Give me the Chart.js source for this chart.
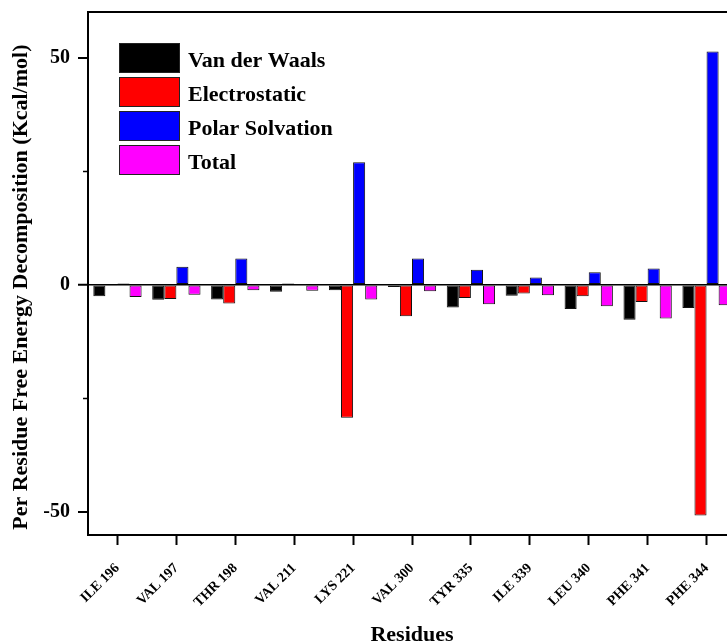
<!DOCTYPE html>
<html>
<head>
<meta charset="utf-8">
<script src="https://cdn.jsdelivr.net/npm/chart.js@4/dist/chart.umd.min.js"></script>
<style>
  html, body { margin: 0; padding: 0; background: #fff; overflow: hidden; width: 727px; height: 644px; }
  #wrap { position: relative; width: 760px; height: 644px; }
</style>
</head>
<body>
<div id="wrap"><canvas id="c" width="760" height="644"></canvas></div>
<script>
// Per-residue energy terms (kcal/mol)
const residues = ['ILE 196', 'VAL 197', 'THR 198', 'VAL 211', 'LYS 221', 'VAL 300', 'TYR 335', 'ILE 339', 'LEU 340', 'PHE 341', 'PHE 344'];
const vanDerWaals    = [-2.5, -3.3, -3.2, -1.5, -1.2, -0.5, -5.0, -2.4, -5.3, -7.7, -5.1];
const electrostatic  = [-0.1, -3.1, -4.1,  0.3, -29.3, -6.9, -2.9, -1.9, -2.5, -3.8, -50.8];
const polarSolvation = [ 0.3,  4.0,  5.8,  0.1, 27.0,  5.8,  3.3,  1.6,  2.8,  3.6, 51.4];
const total          = [-2.7, -2.2, -1.2, -1.3, -3.2, -1.4, -4.3, -2.3, -4.7, -7.4, -4.5];
const seriesNames = ['Van der Waals', 'Electrostatic', 'Polar Solvation', 'Total'];
const yTicks = [-50, 0, 50];
const yMinorTicks = [-25, 25];
const yTitle = 'Per Residue Free Energy Decomposition (Kcal/mol)';

const FONT = '"Liberation Serif", "Times New Roman", serif';
const colors = ['#000000', '#ff0000', '#0000ff', '#ff00ff'];
const values = [vanDerWaals, electrostatic, polarSolvation, total];

// Closes the frame along the top and right, adds short minor ticks and the y-axis title
const framePlugin = {
  id: 'frame',
  afterDraw(chart) {
    const { ctx, chartArea: a, scales: { y } } = chart;
    ctx.save();
    ctx.strokeStyle = '#000';
    ctx.lineWidth = 2;
    ctx.beginPath();
    ctx.moveTo(a.left - 1, a.top);
    ctx.lineTo(a.right, a.top);
    ctx.lineTo(a.right, a.bottom);
    ctx.stroke();
    ctx.lineWidth = 1.5;
    yMinorTicks.forEach(v => {
      const py = Math.round(y.getPixelForValue(v)) + 0.5;
      ctx.beginPath();
      ctx.moveTo(a.left - 5, py);
      ctx.lineTo(a.left, py);
      ctx.stroke();
    });
    // vertical axis title, reading bottom to top
    ctx.translate(21, y.getPixelForValue(-0.5));
    ctx.rotate(-Math.PI / 2);
    ctx.font = 'bold 22px ' + FONT;
    ctx.fillStyle = '#000';
    ctx.textAlign = 'center';
    ctx.textBaseline = 'middle';
    ctx.fillText(yTitle, 0, 0);
    ctx.restore();
  }
};

// Boxed legend inside the plot, upper left
const boxLegendPlugin = {
  id: 'boxLegend',
  afterDraw(chart) {
    const { ctx } = chart;
    const x0 = 119, y0 = 43, bw = 61, bh = 30, step = 34;
    ctx.save();
    ctx.font = 'bold 22px ' + FONT;
    ctx.textBaseline = 'middle';
    ctx.textAlign = 'left';
    chart.data.datasets.forEach((ds, i) => {
      const yy = y0 + i * step;
      ctx.fillStyle = ds.backgroundColor;
      ctx.fillRect(x0, yy, bw, bh);
      ctx.strokeStyle = '#222';
      ctx.lineWidth = 1;
      ctx.strokeRect(x0 + 0.5, yy + 0.5, bw - 1, bh - 1);
      ctx.fillStyle = '#000';
      ctx.fillText(ds.label, 188, yy + bh / 2 + 3);
    });
    ctx.restore();
  }
};

new Chart(document.getElementById('c'), {
  type: 'bar',
  data: {
    labels: residues,
    datasets: seriesNames.map((name, i) => ({
      label: name,
      data: values[i],
      backgroundColor: colors[i],
      borderColor: '#111',
      borderWidth: 1,
      borderSkipped: false,
      barPercentage: 1.0,
      categoryPercentage: 0.82
    }))
  },
  options: {
    responsive: false,
    animation: false,
    devicePixelRatio: 1,
    layout: { padding: { top: 12, right: 24, left: 0, bottom: 0 } },
    plugins: {
      legend: { display: false },
      tooltip: { enabled: false }
    },
    scales: {
      x: {
        offset: true,
        grid: { display: true, drawOnChartArea: false, drawTicks: true, tickLength: 10, tickColor: '#000', tickWidth: 2, offset: false },
        border: { display: true, color: '#000', width: 2 },
        ticks: {
          color: '#000',
          font: { family: FONT, size: 14, weight: 'bold' },
          minRotation: 45, maxRotation: 45,
          padding: 15,
          autoSkip: false
        },
        title: {
          display: true,
          text: 'Residues',
          color: '#000',
          font: { family: FONT, size: 22, weight: 'bold' },
          padding: { top: 0, bottom: -5 }
        },
        afterFit(scale) { scale.height = 109; scale.paddingLeft = 0; scale.paddingRight = 0; }
      },
      y: {
        min: -55.1,
        max: 60.1,
        afterBuildTicks(scale) { scale.ticks = yTicks.map(v => ({ value: v })); },
        grid: {
          drawOnChartArea: true,
          drawTicks: true,
          tickLength: 10,
          tickColor: '#000',
          tickWidth: 2,
          color: ctx => (ctx.tick && ctx.tick.value === 0 ? '#000' : 'rgba(0,0,0,0)'),
          lineWidth: ctx => (ctx.tick && ctx.tick.value === 0 ? 1.5 : 0)
        },
        border: { display: true, color: '#000', width: 2 },
        ticks: {
          color: '#000',
          font: { family: FONT, size: 20, weight: 'bold' },
          padding: 8
        },
        title: { display: false },
        afterFit(scale) { scale.width = 88; scale.paddingTop = 0; scale.paddingBottom = 0; }
      }
    }
  },
  plugins: [framePlugin, boxLegendPlugin]
});
</script>
</body>
</html>
